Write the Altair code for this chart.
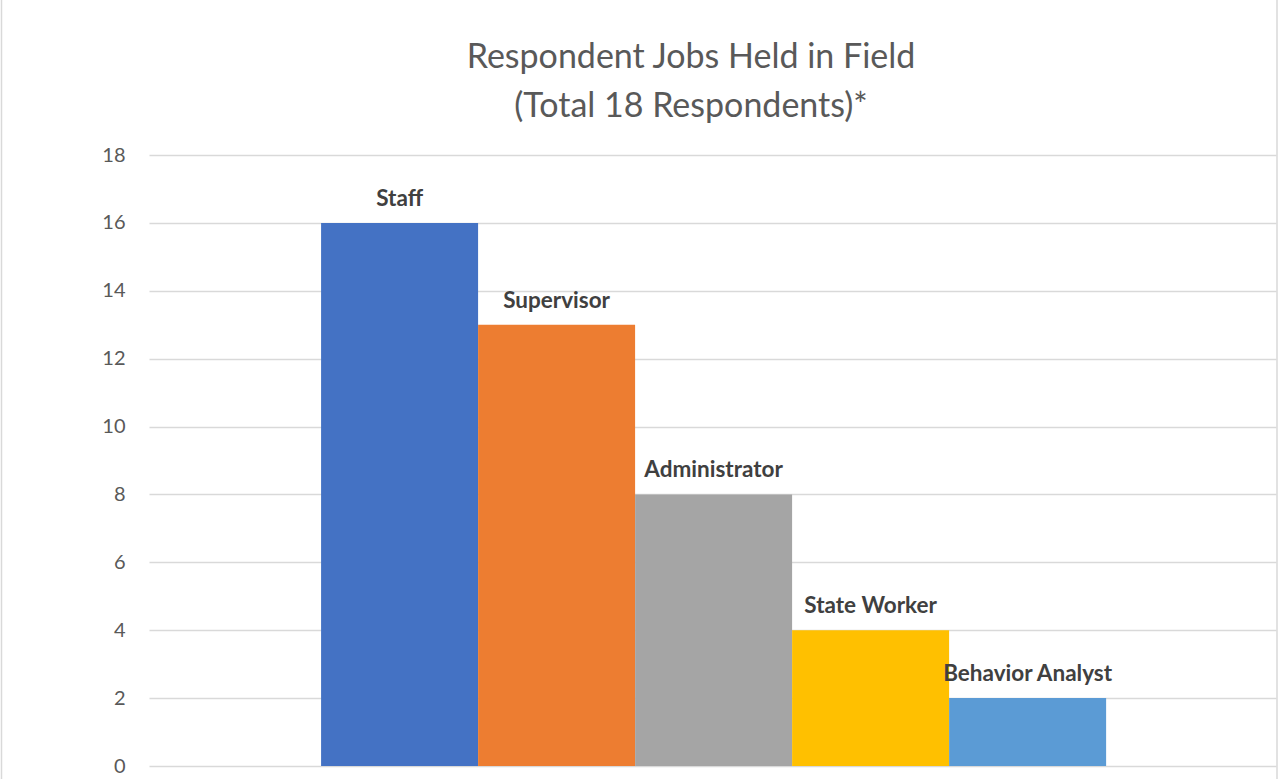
import altair as alt
import pandas as pd

# ---- data ----
categories = ["Staff", "Supervisor", "Administrator", "State Worker", "Behavior Analyst"]
counts = [16, 13, 8, 4, 2]
colors = ["#4472C4", "#ED7D31", "#A5A5A5", "#FFC000", "#5B9BD5"]
y_ticks = [0, 2, 4, 6, 8, 10, 12, 14, 16, 18]
title_lines = ["Respondent Jobs Held in Field", "(Total 18 Respondents)*"]

df = pd.DataFrame({"job": categories, "count": counts, "idx": list(range(len(categories)))})

FONT = "Lato"
W, H = 1127, 611

# one category cluster with Excel-like gap on both sides
x_scale = alt.Scale(domain=[-1.596, 5.582], nice=False, zero=False)
y_scale = alt.Scale(domain=[0, 18], nice=False)

y_axis = alt.Axis(
    values=y_ticks,
    title=None,
    domain=False,
    ticks=False,
    grid=True,
    gridColor="#D9D9D9",
    gridWidth=1.3,
    labelFont=FONT,
    labelFontSize=20,
    labelColor="#595959",
    labelPadding=24,
)

base = alt.Chart(df).transform_calculate(
    x0="datum.idx - 0.5", x1="datum.idx + 0.5"
)

bars = base.mark_bar().encode(
    x=alt.X("x0:Q", scale=x_scale, axis=None),
    x2="x1:Q",
    y=alt.Y("count:Q", scale=y_scale, axis=y_axis),
    y2=alt.datum(0),
    color=alt.Color("job:N", sort=categories,
                    scale=alt.Scale(domain=categories, range=colors), legend=None),
)

labels = base.mark_text(
    font=FONT, fontSize=22.5, fontWeight="bold", color="#404040",
    baseline="alphabetic", dy=-17,
).encode(
    x=alt.X("idx:Q", scale=x_scale, axis=None),
    y=alt.Y("count:Q", scale=y_scale),
    text="job:N",
)

# title lines (centred as in the reference)
title_df = pd.DataFrame({"line": title_lines})
title1 = alt.Chart(title_df.iloc[[0]]).mark_text(
    font=FONT, fontSize=34, color="#595959", align="center", baseline="alphabetic"
).encode(x=alt.value(542), y=alt.value(-87), text="line:N")
title2 = alt.Chart(title_df.iloc[[1]]).mark_text(
    font=FONT, fontSize=34, color="#595959", align="center", baseline="alphabetic"
).encode(x=alt.value(542), y=alt.value(-38), text="line:N")

# chart-area border (left and right edges visible in the reference)
border_df = pd.DataFrame({"side": ["left", "right"]})
left_border = alt.Chart(border_df.iloc[[0]]).mark_rule(color="#D9D9D9", strokeWidth=1.5).encode(
    x=alt.value(-147.5), y=alt.value(-160), y2=alt.value(H + 20)
)
right_border = alt.Chart(border_df.iloc[[1]]).mark_rule(color="#D9D9D9", strokeWidth=1.5).encode(
    x=alt.value(W + 1), y=alt.value(-160), y2=alt.value(H + 20)
)

chart = (
    alt.layer(bars, labels, title1, title2, left_border, right_border)
    .properties(
        width=W,
        height=H,
        padding={"left": 149, "top": 155, "right": 5, "bottom": 13},
        autosize=alt.AutoSizeParams(type="none"),
        background="white",
    )
    .configure_view(stroke=None)
)

chart.save("out.html", embed_options={"renderer": "svg", "actions": False})
